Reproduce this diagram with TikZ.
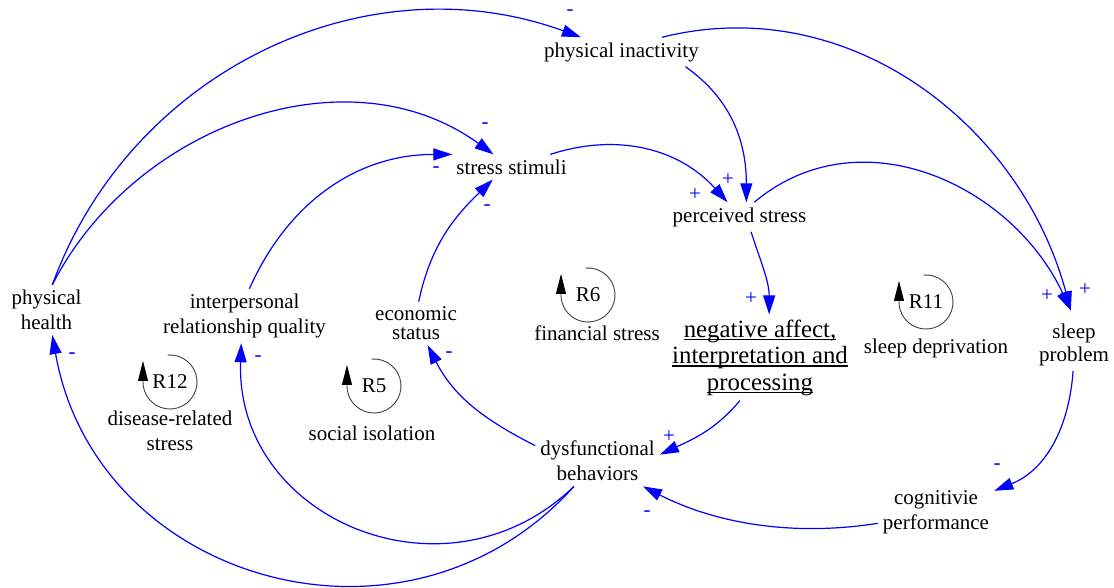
\documentclass[tikz,border=0pt]{standalone}
\usepackage{fontspec}
\setmainfont{LiberationSerif}[Extension=.ttf, UprightFont=*-Regular, BoldFont=*-Bold]
\usepackage{tikz}
\usetikzlibrary{arrows.meta}
\newcommand{\ulline}[1]{\setbox0=\hbox{#1}\rlap{\rule[-3pt]{\wd0}{1.1pt}}\box0}

\begin{document}
\begin{tikzpicture}[x=1pt, y=1pt, every node/.style={font=\rmfamily\fontsize{21}{25}\selectfont}, var/.style={align=center, inner sep=5pt}, pol/.style={text=blue, inner sep=0pt}, loopname/.style={inner sep=0pt}, link/.style={draw=blue, line width=1.2pt, -{Triangle[length=19pt, width=12pt]}}, loopline/.style={draw=black!75, line width=0.9pt, -{Triangle[length=20pt, width=10pt, color=black]}}]
\useasboundingbox (0,0) rectangle (1114,588);
\node[var] (pin) at (621.5,536) {physical inactivity};
\node[var] (ss) at (511.5,421) {stress stimuli};
\node[var] (ps) at (739.5,371) {perceived stress};
\node[var] (ph) at (46.5,278) {physical\\health};
\node[var] (irq) at (244.6,272) {interpersonal\\relationship quality};
\node[var] (es) at (416,264.6) {economic\\[-6pt]status};
\node[var] (fs) at (597,254.3) {financial stress};
\node[var, font=\rmfamily\fontsize{24.8}{26.5}\selectfont] (na) at (760,230.5) {\ulline{negative affect,}\\\ulline{interpretation and}\\\ulline{processing}};
\node[var] (sd) at (936,239.4) {sleep deprivation};
\node[var] (sp) at (1074,243.3) {sleep\\[-2pt]problem};
\node[var] (db) at (597.5,126.8) {dysfunctional\\behaviors};
\node[var] (cp) at (936,76) {cognitivie\\performance};
\node[var] (drs) at (170,157.2) {disease-related\\stress};
\node[var] (si) at (372,155) {social isolation};
\node[loopname] (r12) at (170,206) {R12};
\node[loopname] (r5) at (374,202) {R5};
\node[loopname] (r6) at (588,293) {R6};
\node[loopname] (r11) at (926,286) {R11};
\draw[loopline] ([shift={(95:27)}]r12.center) arc[start angle=95, end angle=-180, radius=27] -- ++(0,21);
\draw[loopline] ([shift={(95:27)}]r5.center) arc[start angle=95, end angle=-180, radius=27] -- ++(0,21);
\draw[loopline] ([shift={(95:27)}]r6.center) arc[start angle=95, end angle=-180, radius=27] -- ++(0,21);
\draw[loopline] ([shift={(95:27)}]r11.center) arc[start angle=95, end angle=-180, radius=27] -- ++(0,21);
\draw[link] (ph.77) to[out=70, in=160] (pin.160);
\draw[link] (ph.77) to[out=63, in=144] (ss.145);
\draw[link] (irq.80) to[out=66, in=180] (ss.168);
\draw[link] (es.83) to[out=78, in=224] (ss.214);
\draw[link] (ss.18) to[out=18, in=132] (ps.129);
\draw[link] (pin.-13) to[out=-35, in=90] (ps.65);
\draw[link] (pin.20) to[out=14, in=105] ([yshift=8pt]sp.97);
\draw[link] (ps.45) to[out=40, in=115, looseness=1.06] ([yshift=8pt]sp.97);
\draw[link] (ps.-52) to[out=-72, in=90] (na.78);
\draw[link] (na.245) to[out=230, in=25] (db.6);
\draw[link] (db.166) to[out=153, in=-63] (es.-62);
\draw[link] (db.227) to[out=224, in=-92, looseness=1.25] (irq.263);
\draw[link] (db.227) to[out=228, in=-80, looseness=1.18] (ph.283);
\draw[link] (cp.191) to[out=189, in=-27, looseness=0.9] (db.-29);
\draw[link] (sp.268) to[out=-94, in=22] (cp.20);
\node[pol] (pol1) at (570,575) {-};
\node[pol] (pol2) at (485,462) {-};
\node[pol] (pol3) at (436,418) {-};
\node[pol] (pol4) at (487,380) {-};
\node[pol] (pol5) at (695,393) {+};
\node[pol] (pol6) at (728,408) {+};
\node[pol] (pol7) at (751,289) {+};
\node[pol] (pol8) at (1047,292) {+};
\node[pol] (pol9) at (1085,298) {+};
\node[pol] (pol10) at (997,121) {-};
\node[pol] (pol11) at (669,151) {+};
\node[pol] (pol12) at (647,74) {-};
\node[pol] (pol13) at (449,233) {-};
\node[pol] (pol14) at (258,229) {-};
\node[pol] (pol15) at (72,232) {-};
\end{tikzpicture}
\end{document}
